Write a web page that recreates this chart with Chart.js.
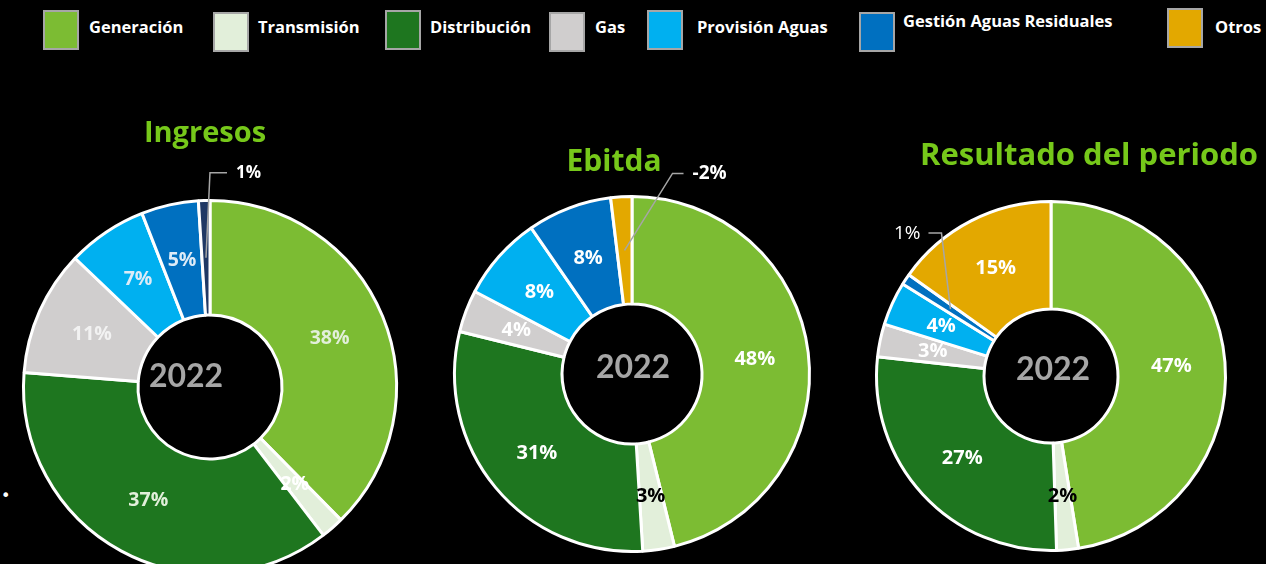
<!DOCTYPE html>
<html>
<head>
<meta charset="utf-8">
<script src="https://cdn.jsdelivr.net/npm/chart.js@4.4.0/dist/chart.umd.min.js"></script>
<style>
  html, body { margin: 0; padding: 0; background: #000; width: 1266px; height: 564px; overflow: hidden; }
  canvas { position: absolute; left: 0; top: 0; }
  .lg-box { position: absolute; width: 32px; height: 36px; border: 2px solid #a6a6a6; }
  .lg-text { position: absolute; color: #fff; font: 700 16.5px "Open Sans", sans-serif; white-space: nowrap; }
  #dot { position: absolute; left: 1px; top: 486px; color: #fff; font: 16px "DejaVu Sans", sans-serif; }
</style>
</head>
<body>
<div id="legend"></div>
<div id="dot">•</div>
<canvas id="ingresosChart" width="1266" height="620"></canvas>
<canvas id="ebitdaChart" width="1266" height="620"></canvas>
<canvas id="resultadoChart" width="1266" height="620"></canvas>
<script>
// DATA
const segments = ['Generación', 'Transmisión', 'Distribución', 'Gas', 'Provisión Aguas', 'Gestión Aguas Residuales', 'Otros'];
const segmentColors = ['#7cbc33', '#e2efda', '#1e761f', '#d0cece', '#00b0f0', '#0070c0', '#e3a800'];
const ingresos = [38, 2, 37, 11, 7, 5, 1];
const ebitda = [48, 3, 31, 4, 8, 8, -2];
const resultado = [47, 2, 27, 3, 4, 1, 15];
const yearLabel = '2022';

// LEGEND (html, built from the categories)
const legendLeft = [43, 213, 385, 549, 647, 859, 1167];
const legendTextLeft = [89, 258, 430, 595, 697, 903, 1215];
const legendTop = [10, 12, 10, 12, 10, 12, 8];
const legendDiv = document.getElementById('legend');
let legendHtml = '';
segments.forEach((name, i) => {
    legendHtml += `<div class="lg-box" style="left:${legendLeft[i]}px;top:${legendTop[i]}px;background:${segmentColors[i]}"></div>`;
    legendHtml += `<div class="lg-text" style="left:${legendTextLeft[i]}px;top:${i === 5 ? 9 : 15}px">${name}</div>`;
});
legendDiv.innerHTML = legendHtml;

// Labels, callouts, centre text and title drawn on top of each doughnut
const ringLabels = {
    id: 'ringLabels',
    afterDatasetsDraw(chart, args, opts) {
        const ctx = chart.ctx;
        const arcs = chart.getDatasetMeta(0).data;
        ctx.save();
        ctx.textBaseline = 'middle';
        arcs.forEach((arc, i) => {
            const p = arc.tooltipPosition();
            const text = opts.values[i] + '%';
            const co = opts.callouts[i];
            if (co) {
                ctx.strokeStyle = '#a6a6a6';
                ctx.lineWidth = 1.5;
                ctx.beginPath();
                ctx.moveTo(p.x, p.y);
                ctx.lineTo(p.x + co.elbow[0], p.y + co.elbow[1]);
                ctx.lineTo(p.x + co.end[0], p.y + co.end[1]);
                ctx.stroke();
                ctx.font = co.font;
                ctx.fillStyle = '#ffffff';
                ctx.textAlign = co.align;
                ctx.fillText(text, p.x + co.text[0], p.y + co.text[1]);
            } else {
                ctx.font = opts.font;
                ctx.fillStyle = opts.colors[i];
                ctx.textAlign = 'center';
                ctx.fillText(text, p.x, p.y);
            }
        });
        const c = arcs[0];
        ctx.textBaseline = 'alphabetic';
        ctx.textAlign = 'center';
        ctx.font = 'bold 32px Lato, sans-serif';
        ctx.fillStyle = '#a6a6a6';
        ctx.fillText(yearLabel, c.x + opts.centerShift[0], c.y + opts.centerShift[1]);
        ctx.font = opts.titleFont;
        ctx.fillStyle = '#76c81a';
        ctx.fillText(opts.title, c.x + opts.titleShift[0], c.y + opts.titleShift[1]);
        ctx.restore();
    }
};

function makeDoughnut(id, values, colors, padding, cutout, labelOpts) {
    return new Chart(document.getElementById(id), {
        type: 'doughnut',
        data: {
            labels: segments,
            datasets: [{
                data: values.map(v => Math.abs(v)),
                backgroundColor: colors,
                borderColor: '#ffffff',
                borderWidth: 3
            }]
        },
        options: {
            responsive: false,
            animation: false,
            cutout: cutout,
            layout: { padding: padding },
            plugins: {
                legend: { display: false },
                tooltip: { enabled: false },
                ringLabels: Object.assign({ values: values }, labelOpts)
            }
        },
        plugins: [ringLabels]
    });
}

const paleText = ['#e2efda', '#ffffff', '#e2efda', '#f2f2f2', '#ddebf7', '#ddebf7', '#ffffff'];
const whiteText = ['#ffffff', '#000000', '#ffffff', '#ffffff', '#ffffff', '#ffffff', '#ffffff'];

// Ingresos (the "Otros" slice is navy here)
makeDoughnut('ingresosChart', ingresos,
    segmentColors.slice(0, 6).concat(['#203864']),
    { left: 22, right: 868, top: 199, bottom: 45 }, 72, {
        font: 'bold 19.5px "Open Sans", sans-serif',
        colors: paleText,
        callouts: { 6: { elbow: [4, -85], end: [21, -85], text: [30, -85], align: 'left', font: 'bold 17px "Open Sans", sans-serif' } },
        centerShift: [-24, 0],
        title: 'Ingresos', titleFont: 'bold 29px "Open Sans", sans-serif', titleShift: [-5, -245]
    });

// Ebitda
makeDoughnut('ebitdaChart', ebitda, segmentColors,
    { left: 453, right: 455, top: 195, bottom: 67 }, 70, {
        font: 'bold 20px "Open Sans", sans-serif',
        colors: whiteText,
        callouts: { 6: { elbow: [48, -77], end: [59, -77], text: [68, -77], align: 'left', font: 'bold 19px "Open Sans", sans-serif' } },
        centerShift: [1, 4],
        title: 'Ebitda', titleFont: 'bold 30px "Open Sans", sans-serif', titleShift: [-18, -203]
    });

// Resultado del periodo
makeDoughnut('resultadoChart', resultado, segmentColors,
    { left: 875, right: 39, top: 200, bottom: 68 }, 67, {
        font: 'bold 20px "Open Sans", sans-serif',
        colors: whiteText,
        callouts: { 5: { elbow: [-9, -76], end: [-22, -76], text: [-30, -76], align: 'right', font: '19px "Open Sans", sans-serif' } },
        centerShift: [2, 4],
        title: 'Resultado del periodo', titleFont: 'bold 31px "Open Sans", sans-serif', titleShift: [38, -211]
    });
</script>
</body>
</html>
